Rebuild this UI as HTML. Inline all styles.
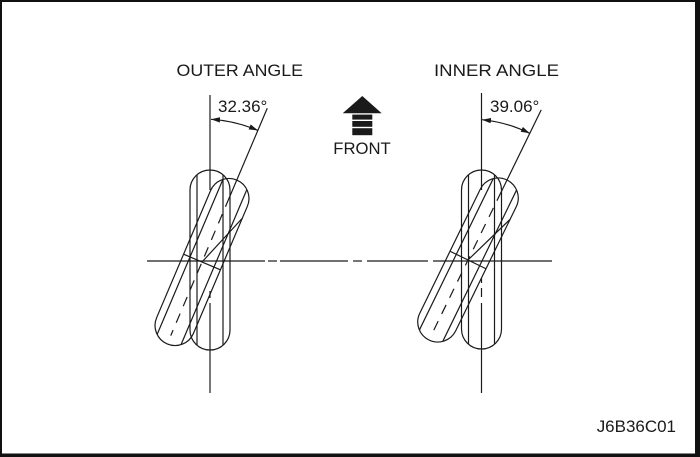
<!DOCTYPE html>
<html><head><meta charset="utf-8">
<style>
html,body{margin:0;padding:0;background:#fff;}
svg{display:block;}
text{font-family:"Liberation Sans",Arial,sans-serif;fill:#1a1a1a;}
</style></head><body>
<svg width="700" height="457" viewBox="0 0 700 457" xmlns="http://www.w3.org/2000/svg">
<defs>
<marker id="ah" viewBox="0 0 10 6" refX="10" refY="3" markerWidth="9" markerHeight="5.4" markerUnits="userSpaceOnUse" orient="auto-start-reverse"><path d="M0,0 L10,3 L0,6 z" fill="#1a1a1a"/></marker>
</defs>
<rect x="0" y="0" width="700" height="457" fill="#fff"/>
<!-- border -->
<rect x="0" y="0" width="700" height="2" fill="#111"/>
<rect x="0" y="0" width="2" height="457" fill="#111"/>
<rect x="695" y="0" width="5" height="457" fill="#111"/>
<rect x="0" y="453.5" width="700" height="3.5" fill="#111"/>

<!-- titles -->
<text x="176.5" y="76" font-size="17" textLength="126.5" lengthAdjust="spacingAndGlyphs">OUTER ANGLE</text>
<text x="434" y="76" font-size="17" textLength="125" lengthAdjust="spacingAndGlyphs">INNER ANGLE</text>
<text x="218" y="112" font-size="17">32.36°</text>
<text x="490" y="112" font-size="17">39.06°</text>
<text x="333.3" y="154" font-size="17" textLength="57.4" lengthAdjust="spacingAndGlyphs">FRONT</text>
<text x="596.7" y="432" font-size="17" textLength="79.3" lengthAdjust="spacingAndGlyphs">J6B36C01</text>

<!-- FRONT arrow -->
<polygon points="362.3,96 342.7,113.3 381.7,113.3" fill="#1a1a1a"/>
<rect x="352.3" y="114.6" width="20" height="20.6" fill="#1a1a1a"/>
<rect x="352" y="119.6" width="21" height="1.4" fill="#fff"/>
<rect x="352" y="126.8" width="21" height="1.4" fill="#fff"/>

<g stroke="#1a1a1a" stroke-width="1.2" fill="none">
  <!-- horizontal center line -->
  <line x1="147" y1="261" x2="265" y2="261"/>
  <line x1="268" y1="261" x2="277" y2="261"/>
  <line x1="280" y1="261" x2="348" y2="261"/>
  <line x1="353" y1="261" x2="362" y2="261"/>
  <line x1="367" y1="261" x2="428" y2="261"/>
  <line x1="433" y1="261" x2="552" y2="261"/>

  <!-- ===== OUTER ===== -->
  <line x1="210" y1="95" x2="210" y2="190"/>
  <line x1="210" y1="291" x2="210" y2="298"/>
  <line x1="210" y1="303" x2="210" y2="393"/>
  <rect x="190" y="170" width="40" height="180" rx="20" ry="20"/>
  <line x1="197" y1="175" x2="197" y2="345"/>
  <line x1="223" y1="175" x2="223" y2="345"/>
  <g transform="translate(202,262) rotate(23)">
    <rect x="-20" y="-89" width="40" height="178" rx="20" ry="20"/>
    <line x1="-13" y1="-84" x2="-13" y2="84"/>
    <line x1="13" y1="-84" x2="13" y2="84"/>
    <line x1="-20" y1="0" x2="20" y2="0"/>
    <line x1="0" y1="0" x2="20" y2="-56"/>
    <line x1="0" y1="-167" x2="0" y2="-60"/>
    <line x1="0" y1="-52" x2="0" y2="80" stroke-dasharray="10 8"/>
  </g>
  <path d="M211,119.3 A143,143 0 0 1 257.9,130.4" marker-start="url(#ah)" marker-end="url(#ah)"/>

  <!-- ===== INNER ===== -->
  <line x1="481.5" y1="93" x2="481.5" y2="190"/>
  <line x1="481.5" y1="278" x2="481.5" y2="283"/>
  <line x1="481.5" y1="288" x2="481.5" y2="297"/>
  <line x1="481.5" y1="303" x2="481.5" y2="393"/>
  <rect x="461.5" y="170" width="40" height="179" rx="20" ry="20"/>
  <line x1="468.5" y1="175" x2="468.5" y2="344"/>
  <line x1="494.5" y1="175" x2="494.5" y2="344"/>
  <g transform="translate(468,260) rotate(26)">
    <rect x="-20" y="-89" width="40" height="178" rx="20" ry="20"/>
    <line x1="-13" y1="-84" x2="-13" y2="84"/>
    <line x1="13" y1="-84" x2="13" y2="84"/>
    <line x1="-20" y1="0" x2="20" y2="0"/>
    <line x1="0" y1="0" x2="20" y2="-55"/>
    <line x1="0" y1="-167" x2="0" y2="-66"/>
    <line x1="0" y1="-58" x2="0" y2="80" stroke-dasharray="10 8"/>
  </g>
  <path d="M482,119.7 A141,141 0 0 1 529.8,133.3" marker-start="url(#ah)" marker-end="url(#ah)"/>
</g>
</svg>
</body></html>
